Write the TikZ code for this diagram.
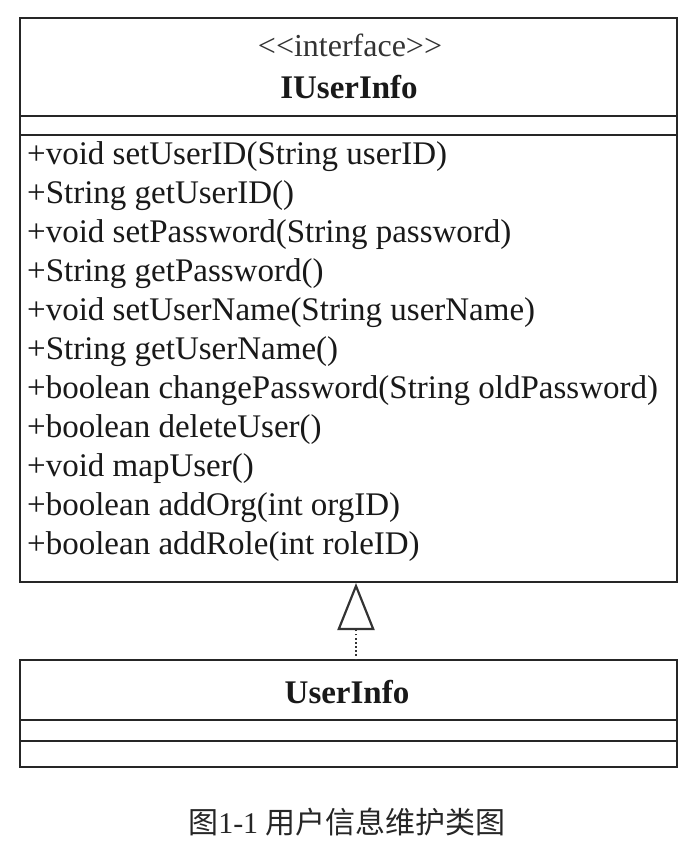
\documentclass[tikz,border=0pt]{standalone}
\usepackage{fontspec}
\setmainfont{Liberation Serif}[Ligatures=NoCommon]
\newfontfamily\cjk{Noto Sans CJK SC}
\usetikzlibrary{arrows.meta}
\begin{document}
\begin{tikzpicture}[x=1pt,y=-1pt,
  umlbox/.style={draw=black!85, line width=1.6pt, rectangle, inner sep=0pt},
  divider/.style={draw=black!85, line width=1.6pt},
  member/.style={font=\fontsize{33}{39}\selectfont, inner sep=0pt, anchor=mid west, text=black!90},
  title/.style={font=\fontsize{33}{39}\selectfont\bfseries, inner sep=0pt, text=black!90},
  stereo/.style={font=\fontsize{32}{39}\selectfont, inner sep=0pt, text=black!80},
  realize/.style={draw=black!80, line width=1.4pt, dash pattern=on 1.5pt off 2.6pt,
    -{Triangle[open, length=47pt, width=37pt, line width=2.2pt, sep=0pt]}},
  caption/.style={font=\fontsize{30}{36}\selectfont, inner sep=0pt, text=black!85}
]
\useasboundingbox (0,0) rectangle (694,848);
\fill[white] (0,0) rectangle (694,848);

% interface box
\node[umlbox, minimum width=657pt, minimum height=564pt] (iface) at (348.5,300) {};
\draw[divider] (20,116) -- (677,116);
\draw[divider] (20,135) -- (677,135);
\node[stereo] (st) at (350,45) {<\kern0pt<interface>\kern0pt>};
\node[title] (iname) at (349,87) {IUserInfo};

\node[member] (m1) at (27,162) {+void setUserID(String userID)};
\node[member] (m2) at (27,201) {+String getUserID()};
\node[member] (m3) at (27,240) {+void setPassword(String password)};
\node[member] (m4) at (27,279) {+String getPassword()};
\node[member] (m5) at (27,318) {+void setUserName(String userName)};
\node[member] (m6) at (27,357) {+String getUserName()};
\node[member] (m7) at (27,396) {+boolean changePassword(String oldPassword)};
\node[member] (m8) at (27,435) {+boolean deleteUser()};
\node[member] (m9) at (27,474) {+void mapUser()};
\node[member] (m10) at (27,513) {+boolean addOrg(int orgID)};
\node[member] (m11) at (27,552) {+boolean addRole(int roleID)};

% implementation box
\node[umlbox, minimum width=657pt, minimum height=107pt] (impl) at (348.5,713.5) {};
\draw[divider] (20,720) -- (677,720);
\draw[divider] (20,741) -- (677,741);
\node[title] (cname) at (347,692) {UserInfo};

% realization
\coordinate (apex) at (356,583);
\coordinate (foot) at (356,660);
\draw[realize] (foot) -- (apex);

% caption
\node[caption] (cap) at (347,822) {{\cjk 图}1-1 {\cjk 用户信息维护类图}};
\end{tikzpicture}
\end{document}
